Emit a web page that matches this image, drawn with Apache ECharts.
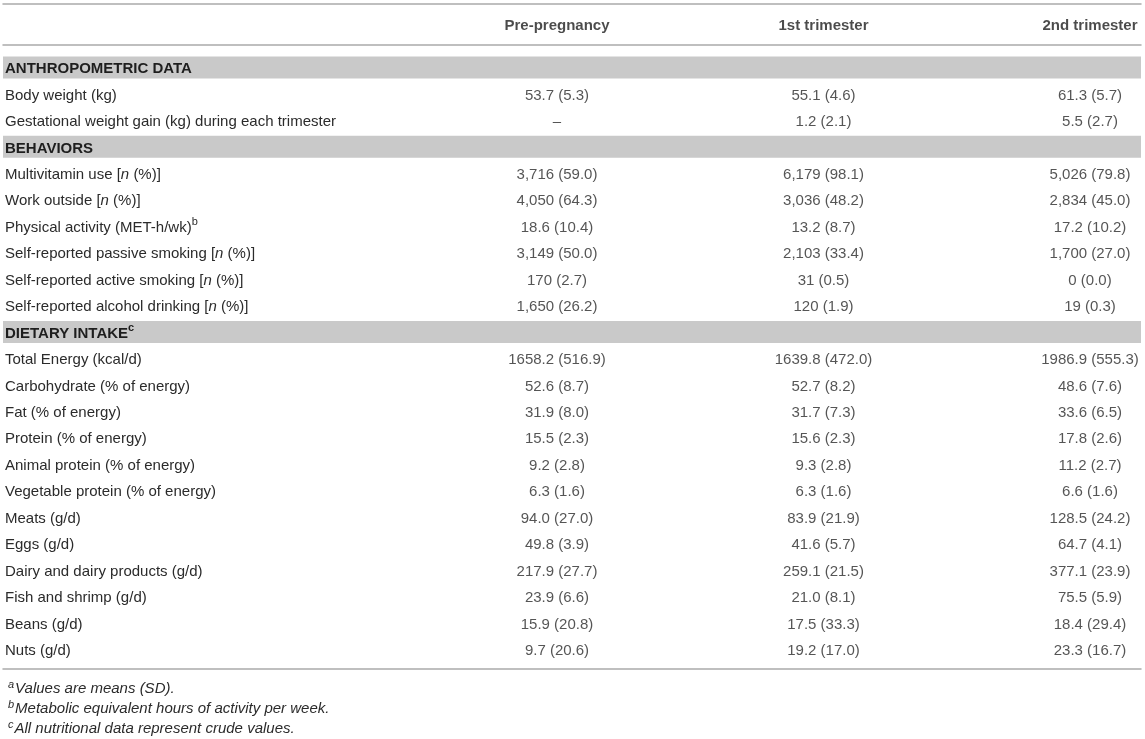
<!DOCTYPE html>
<html>
<head>
<meta charset="utf-8">
<script src="https://cdn.jsdelivr.net/npm/echarts@6/dist/echarts.min.js"></script>
<style>
  html, body { margin: 0; padding: 0; background: #fff; }
  #chart { width: 1145px; height: 739px; }
</style>
</head>
<body>
<div id="chart"></div>
<script>
// ---------- data ----------
const columnHeaders = ['Pre-pregnancy', '1st trimester', '2nd trimester'];
const columnIndex = [4, 5, 6];

const rowLabels = [
  'ANTHROPOMETRIC DATA',
  'Body weight (kg)',
  'Gestational weight gain (kg) during each trimester',
  'BEHAVIORS',
  'Multivitamin use [n (%)]',
  'Work outside [n (%)]',
  'Physical activity (MET-h/wk)',
  'Self-reported passive smoking [n (%)]',
  'Self-reported active smoking [n (%)]',
  'Self-reported alcohol drinking [n (%)]',
  'DIETARY INTAKE',
  'Total Energy (kcal/d)',
  'Carbohydrate (% of energy)',
  'Fat (% of energy)',
  'Protein (% of energy)',
  'Animal protein (% of energy)',
  'Vegetable protein (% of energy)',
  'Meats (g/d)',
  'Eggs (g/d)',
  'Dairy and dairy products (g/d)',
  'Fish and shrimp (g/d)',
  'Beans (g/d)',
  'Nuts (g/d)'
];
const rowNoteMarks = ['', '', '', '', '', '', 'b', '', '', '', 'c', '', '', '', '', '', '', '', '', '', '', '', ''];
const sectionRows = [1, 0, 0, 1, 0, 0, 0, 0, 0, 0, 1, 0, 0, 0, 0, 0, 0, 0, 0, 0, 0, 0, 0];

const prePregnancy = ['', '53.7 (5.3)', '–', '', '3,716 (59.0)', '4,050 (64.3)', '18.6 (10.4)', '3,149 (50.0)', '170 (2.7)', '1,650 (26.2)', '',
  '1658.2 (516.9)', '52.6 (8.7)', '31.9 (8.0)', '15.5 (2.3)', '9.2 (2.8)', '6.3 (1.6)', '94.0 (27.0)', '49.8 (3.9)', '217.9 (27.7)', '23.9 (6.6)', '15.9 (20.8)', '9.7 (20.6)'];
const firstTrimester = ['', '55.1 (4.6)', '1.2 (2.1)', '', '6,179 (98.1)', '3,036 (48.2)', '13.2 (8.7)', '2,103 (33.4)', '31 (0.5)', '120 (1.9)', '',
  '1639.8 (472.0)', '52.7 (8.2)', '31.7 (7.3)', '15.6 (2.3)', '9.3 (2.8)', '6.3 (1.6)', '83.9 (21.9)', '41.6 (5.7)', '259.1 (21.5)', '21.0 (8.1)', '17.5 (33.3)', '19.2 (17.0)'];
const secondTrimester = ['', '61.3 (5.7)', '5.5 (2.7)', '', '5,026 (79.8)', '2,834 (45.0)', '17.2 (10.2)', '1,700 (27.0)', '0 (0.0)', '19 (0.3)', '',
  '1986.9 (555.3)', '48.6 (7.6)', '33.6 (6.5)', '17.8 (2.6)', '11.2 (2.7)', '6.6 (1.6)', '128.5 (24.2)', '64.7 (4.1)', '377.1 (23.9)', '75.5 (5.9)', '18.4 (29.4)', '23.3 (16.7)'];

const footnoteMarks = ['a', 'b', 'c'];
const footnotes = ['Values are means (SD).', 'Metabolic equivalent hours of activity per week.', 'All nutritional data represent crude values.'];

// ---------- layout ----------
const X_MIN = 1.9212, X_MAX = 6.1914;
const FONT = 'Liberation Sans, Arial, Helvetica, sans-serif';
const TXT = '#2b2b2b';
const HEAD = '#1e1e1e';
const LINE = { color: '#ababab', width: 1.5 };

const columns = [prePregnancy, firstTrimester, secondTrimester];

function labelFormatter(value) {
  const i = rowLabels.indexOf(value);
  const mark = rowNoteMarks[i];
  if (sectionRows[i]) return '{sec|' + value + '}' + (mark ? '{secsup|' + mark + '}' : '');
  return '{txt|' + value.replace('[n (%)]', '[}{it|n}{txt| (%)]') + '}' + (mark ? '{sup|' + mark + '}' : '');
}

const cellSeries = columns.map((col, c) => ({
  type: 'scatter',
  xAxisIndex: 0, yAxisIndex: 0,
  symbolSize: 0,
  silent: true,
  z: 5,
  data: col.map((t, i) => ({ value: [columnIndex[c], i], name: t })).filter(d => d.name !== ''),
  label: {
    show: true, position: 'inside', formatter: '{b}', offset: [0, 1.5],
    fontFamily: FONT, fontSize: 15, color: TXT
  },
  emphasis: { disabled: true }
}));

const option = {
  animation: false,
  backgroundColor: '#fff',
  title: {
    left: 3, top: 674,
    text: footnotes.map((t, i) => '{sup|' + footnoteMarks[i] + '}{it|' + t + '}').join('\n'),
    textStyle: {
      fontWeight: 'normal',
      rich: {
        sup: { fontFamily: FONT, fontSize: 11, fontStyle: 'italic', fontWeight: 'normal', color: TXT, verticalAlign: 'top', lineHeight: 18, padding: [0, 1, 0, 0] },
        it: { fontFamily: FONT, fontSize: 15, fontStyle: 'italic', fontWeight: 'normal', color: TXT, lineHeight: 20 }
      }
    }
  },
  grid: [
    { left: 3, right: 4, top: 54.3, height: 608.3 },
    { left: 3, right: 4, top: 4, height: 40.5 }
  ],
  xAxis: [
    { gridIndex: 0, type: 'value', min: X_MIN, max: X_MAX, position: 'bottom', offset: 6.5,
      axisLine: { show: true, lineStyle: LINE }, axisTick: { show: false }, axisLabel: { show: false }, splitLine: { show: false } },
    { gridIndex: 1, type: 'value', min: X_MIN, max: X_MAX, position: 'bottom',
      axisLine: { show: true, lineStyle: LINE }, axisTick: { show: false }, axisLabel: { show: false }, splitLine: { show: false } },
    { gridIndex: 1, type: 'value', min: X_MIN, max: X_MAX, position: 'top',
      axisLine: { show: true, lineStyle: LINE }, axisTick: { show: false }, axisLabel: { show: false }, splitLine: { show: false } }
  ],
  yAxis: [
    { gridIndex: 0, type: 'category', inverse: true, data: rowLabels, z: 10,
      axisLine: { show: false }, axisTick: { show: false }, splitLine: { show: false },
      axisLabel: {
        show: true, inside: true, margin: 2, interval: 0,
        fontFamily: FONT, fontSize: 15, color: TXT,
        formatter: labelFormatter,
        rich: {
          txt: { fontFamily: FONT, fontSize: 15, color: TXT, lineHeight: 20, padding: [3, 0, 0, 0] },
          it: { fontFamily: FONT, fontSize: 15, fontStyle: 'italic', color: TXT, lineHeight: 20, padding: [3, 0, 0, 0] },
          sec: { fontFamily: FONT, fontSize: 15, fontWeight: 'bold', color: HEAD, lineHeight: 20, padding: [3, 0, 0, 0] },
          sup: { fontFamily: FONT, fontSize: 11, color: TXT, verticalAlign: 'top', lineHeight: 19 },
          secsup: { fontFamily: FONT, fontSize: 11, fontWeight: 'bold', color: HEAD, verticalAlign: 'top', lineHeight: 19 }
        }
      }
    },
    { gridIndex: 1, type: 'category', data: ['header'], show: false }
  ],
  series: [
    {
      type: 'bar',
      xAxisIndex: 0, yAxisIndex: 0,
      silent: true,
      clip: true,
      barWidth: 22,
      z: 1,
      itemStyle: { color: '#c9c9c9' },
      data: sectionRows.map(s => (s ? X_MAX : null)),
      emphasis: { disabled: true }
    },
    ...cellSeries,
    {
      type: 'scatter',
      xAxisIndex: 1, yAxisIndex: 1,
      symbolSize: 0,
      silent: true,
      data: columnHeaders.map((h, c) => ({ value: [columnIndex[c], 0], name: h })),
      label: {
        show: true, position: 'inside', formatter: '{b}', offset: [0, 2],
        fontFamily: FONT, fontSize: 15, fontWeight: 'bold', color: HEAD
      },
      emphasis: { disabled: true }
    }
  ]
};

const chart = echarts.init(document.getElementById('chart'), null, { renderer: 'canvas' });
chart.setOption(option);
</script>
</body>
</html>
